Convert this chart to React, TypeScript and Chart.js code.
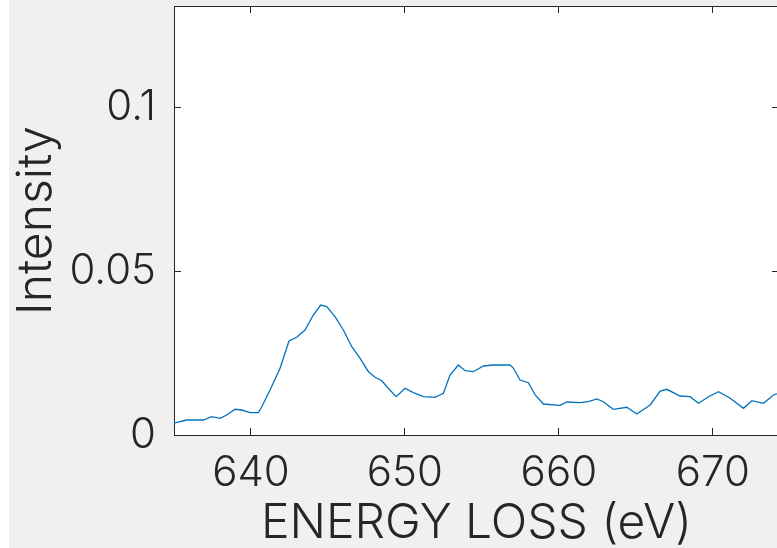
import React, { useEffect, useRef } from "react";
import { Chart, registerables } from "chart.js";

Chart.register(...registerables);

const energy = [
  635.0, 635.83, 636.9, 637.45, 637.99, 638.42, 638.96, 639.4, 639.94, 640.48,
  640.7, 641.24, 641.89, 642.47, 642.97, 643.51, 644.05, 644.53, 644.92, 645.46,
  646.0, 646.55, 647.09, 647.63, 648.06, 648.5, 648.92, 649.43, 650.01, 650.55,
  651.2, 651.96, 652.5, 652.93, 653.47, 653.91, 654.45, 655.1, 655.75, 656.83,
  657.05, 657.48, 658.02, 658.46, 659.0, 660.08, 660.52, 661.38, 661.92, 662.47,
  662.89, 663.54, 664.42, 665.06, 665.93, 666.58, 667.01, 667.88, 668.53, 669.07,
  669.72, 670.37, 671.13, 671.99, 672.54, 673.29, 673.94, 674.38,
];
const intensity = [
  0.0036, 0.00457, 0.00457, 0.00558, 0.00509, 0.0061, 0.00784, 0.00762, 0.0068, 0.0068,
  0.00863, 0.01372, 0.02034, 0.02866, 0.02979, 0.03201, 0.03659, 0.03963, 0.03912, 0.03607,
  0.03201, 0.02692, 0.02338, 0.0193, 0.01759, 0.01655, 0.01424, 0.01168, 0.01424, 0.0129,
  0.01168, 0.01149, 0.01271, 0.01829, 0.02134, 0.0196, 0.0193, 0.02104, 0.02134, 0.02134,
  0.02034, 0.01677, 0.01595, 0.0122, 0.00945, 0.00905, 0.01006, 0.00985, 0.01015, 0.01098,
  0.01015, 0.00784, 0.00845, 0.0064, 0.00915, 0.01341, 0.01393, 0.01189, 0.01168, 0.00966,
  0.01168, 0.0132, 0.01119, 0.00814, 0.01046, 0.00966, 0.0122, 0.0129,
];
const xRange = [635, 674.3];
const yRange = [0, 0.1308];
const xStep = 10;
const yStep = 0.05;
const xTitle = "ENERGY LOSS (eV)";
const yTitle = "Intensity";

const AXIS = "#262626";
const FONT = "Inter";

const plotBg = {
  id: "plotBg",
  beforeDraw(chart: any) {
    const { ctx, chartArea } = chart;
    ctx.save();
    ctx.fillStyle = "#ffffff";
    ctx.fillRect(chartArea.left, chartArea.top, chartArea.right - chartArea.left, chartArea.bottom - chartArea.top);
    ctx.restore();
  },
};

const noPad = (s: any) => {
  s.paddingTop = 0;
  s.paddingBottom = 0;
  s.paddingLeft = 0;
  s.paddingRight = 0;
};

export default function App() {
  const ref = useRef<HTMLCanvasElement | null>(null);
  useEffect(() => {
    if (!ref.current) return;
    const fmt = (v: any) => String(+Number(v).toFixed(4));
    const tickFont = { family: FONT, size: 42, weight: "300" as any };
    const chart = new Chart(ref.current, {
      type: "line",
      data: {
        datasets: [
          {
            data: energy.map((x, i) => ({ x, y: intensity[i] })),
            borderColor: "rgb(0,114,189)",
            borderWidth: 1.3,
            pointRadius: 0,
            tension: 0,
            fill: false,
          },
        ],
      },
      options: {
        animation: false,
        responsive: false,
        devicePixelRatio: 1,
        layout: { padding: { top: 6, right: 20, left: 0, bottom: 0 } },
        plugins: { legend: { display: false }, tooltip: { enabled: false } },
        scales: {
          x: {
            type: "linear",
            position: "bottom",
            min: xRange[0],
            max: xRange[1],
            afterFit: (s: any) => { s.height = 113; noPad(s); },
            ticks: {
              stepSize: xStep,
              includeBounds: false,
              color: AXIS,
              font: tickFont,
              padding: 20,
              maxRotation: 0,
              callback: fmt,
            },
            grid: { drawOnChartArea: false, drawTicks: true, tickLength: -7, color: AXIS },
            border: { display: true, color: AXIS, width: 1 },
            title: {
              display: true,
              text: xTitle,
              color: AXIS,
              font: { family: FONT, size: 48, weight: "300" as any, lineHeight: 1.0 },
              padding: 0,
            },
          },
          xTop: {
            type: "linear",
            position: "top",
            min: xRange[0],
            max: xRange[1],
            afterFit: (s: any) => { s.height = 0; noPad(s); },
            ticks: { stepSize: xStep, includeBounds: false, display: false },
            grid: { drawOnChartArea: false, drawTicks: true, tickLength: -7, color: AXIS },
            border: { display: true, color: AXIS, width: 1 },
          },
          y: {
            type: "linear",
            position: "left",
            min: yRange[0],
            max: yRange[1],
            afterFit: (s: any) => { s.width = 165; noPad(s); },
            ticks: {
              stepSize: yStep,
              includeBounds: false,
              color: AXIS,
              font: tickFont,
              padding: 25,
              callback: fmt,
            },
            grid: { drawOnChartArea: false, drawTicks: true, tickLength: -7, color: AXIS },
            border: { display: true, color: AXIS, width: 1 },
            title: {
              display: true,
              text: yTitle,
              color: AXIS,
              font: { family: FONT, size: 48, weight: "300" as any, lineHeight: 1.15 },
              padding: 0,
            },
          },
          yRight: {
            type: "linear",
            position: "right",
            min: yRange[0],
            max: yRange[1],
            afterFit: (s: any) => { s.width = 0; noPad(s); },
            ticks: { stepSize: yStep, includeBounds: false, display: false },
            grid: { drawOnChartArea: false, drawTicks: true, tickLength: -7, color: AXIS },
            border: { display: true, color: AXIS, width: 1 },
          },
        },
      } as any,
      plugins: [plotBg],
    });
    return () => chart.destroy();
  }, []);

  return (
    <div
      style={{
        position: "absolute",
        left: 0,
        top: 0,
        width: 777,
        height: 548,
        overflow: "hidden",
        background: "#ffffff",
      }}
    >
      <canvas
        ref={ref}
        width={790}
        height={548}
        style={{ position: "absolute", left: 9, top: 0, width: 790, height: 548, background: "#f0f0f0" }}
      />
    </div>
  );
}
